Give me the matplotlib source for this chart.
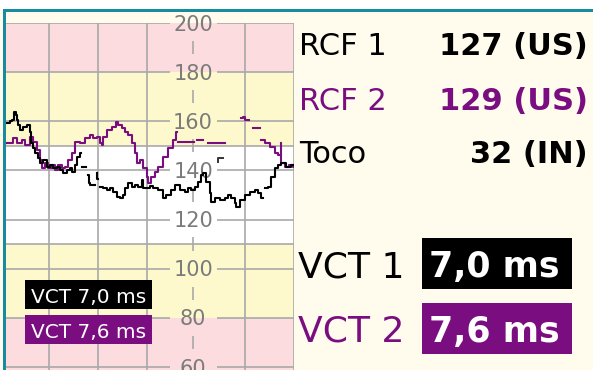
import numpy as np
import matplotlib
matplotlib.use("Agg")
import matplotlib.pyplot as plt
from matplotlib.patches import Rectangle

W, H = 593, 370

# heart rate traces, time in minutes, bpm (nan = signal lost)
t_fhr1 = [0.14, 0.20, 0.24, 0.29, 0.33, 0.35, 0.37, 0.41, 0.47, 0.55, 0.61, 0.63, 0.67,
          0.71, 0.77, 0.82, 0.88, 0.96, 1.02, 1.08, 1.16, 1.22, 1.29, 1.37, 1.43, 1.47,
          1.53, 1.57, 1.63, 1.65, 1.67, 1.73, 1.76, 1.80, 1.82, 1.84, 1.90, 1.94, 1.97,
          1.98, 2.00, 2.04, 2.10, 2.18, 2.24, 2.31, 2.39, 2.45, 2.51, 2.55, 2.61, 2.69,
          2.75, 2.82, 2.90, 2.92, 3.00, 3.06, 3.12, 3.22, 3.33, 3.39, 3.49, 3.57, 3.67,
          3.78, 3.84, 3.90, 3.98, 4.04, 4.10, 4.14, 4.20, 4.29, 4.31, 4.39,
          4.49, 4.59, 4.65, 4.71, 4.80, 4.82, 4.90, 5.00, 5.10, 5.20, 5.27, 5.33, 5.37,
          5.41, 5.47, 5.53, 5.61, 5.67, 5.73, 5.84, 5.94, 6.02]
v_fhr1 = [159.3, 160.1, 160.5, 163.8, 162.6, 160.5, 158.5, 156.4, 157.7, 158.5, 155.6, 151.2, 149.1,
          147.1, 145.1, 143.0, 144.2, 141.4, 142.2, 141.0, 141.4, 140.2, 139.0, 140.2, 141.0, 139.4,
          142.2, 145.5, 147.1, np.nan, 141.4, 141.4, np.nan, 138.1, 134.9, 134.1, 134.1, np.nan, 139.0,
          136.5, np.nan, 133.3, 132.8, 132.0, 132.8, 131.2, 129.2, 128.8, 130.0, 132.8, 134.9, 133.3,
          134.1, 133.3, 136.1, 132.8, 132.8, 133.7, 132.8, 132.0, 128.8, 130.0, 132.0, 134.1, 132.0,
          131.2, 132.8, 132.0, 133.3, 135.3, 138.1, 139.0, 135.3, 130.8, 127.1, 128.8,
          128.0, 128.8, 130.0, 128.8, 126.7, 125.1, 128.0, 130.0, 131.2, 132.0, 130.8, 128.8, np.nan,
          132.8, 133.3, 137.3, 141.0, 142.2, 143.0, 141.4, 142.2, 140.2]

# short isolated fragment of the first trace near 4.5 min
t_frag = [4.45, 4.45, 4.55]
v_frag = [143.5, 145.1, 145.1]

t_fhr2 = [0.14, 0.26, 0.35, 0.45, 0.51, 0.61, 0.67, 0.75, 0.82, 0.86, 0.92, 0.98, 1.06,
          1.12, 1.18, 1.26, 1.33, 1.39, 1.47, 1.53, 1.63, 1.73, 1.84, 1.90, 1.98, 2.04,
          2.08, 2.10, 2.18, 2.29, 2.37, 2.41, 2.49, 2.55, 2.61, 2.69, 2.75, 2.80, 2.86,
          2.92, 3.00, 3.02, 3.08, 3.16, 3.22, 3.33, 3.43, 3.53, 3.59, 3.61, 3.63, 3.90,
          3.95, 4.02, 4.06, 4.15, 4.24, 4.35, 4.60, 4.92, 4.96, 5.00, 5.08, 5.16, 5.27,
          5.30, 5.33, 5.41, 5.51, 5.61, 5.67, 5.70, 5.73, 5.74, 5.81, 5.90, 5.98, 6.04]
v_fhr2 = [151.2, 153.2, 151.2, 152.4, 150.3, 153.6, 151.6, 148.3, 144.2, 141.0, 143.0, 141.0, 142.2,
          140.2, 142.2, 141.0, 141.4, 144.2, 147.1, 151.6, 151.2, 153.2, 154.4, 153.2, 153.6, 151.2,
          150.3, 153.6, 156.5, 157.7, 159.7, 158.5, 157.3, 155.6, 154.4, 151.2, 147.1, 143.0, 144.2,
          141.0, 137.3, 134.9, 137.3, 139.4, 141.4, 145.5, 149.1, 152.4, 155.6, np.nan, 151.6, 151.6,
          np.nan, 152.4, 152.4, np.nan, 151.2, 151.2, np.nan, 161.3, 161.7, 160.5, np.nan, 157.3, 157.3,
          np.nan, 152.4, 151.2, 149.5, 147.1, 146.3, np.nan, 151.2, 143.0, 141.4, 142.2, 141.4, 141.4]

bpm_ticks = [60, 80, 100, 120, 140, 160, 180, 200]

PINK = "#fcdcde"
YELLOW = "#fdf9cc"
CREAM = "#fffcee"
GRID = "#a9a9a9"
TEAL = "#178b9f"
PURPLE = "#7a0e80"


def fx(x):
    return x / W


def fy(y):
    return 1 - y / H


fig = plt.figure(figsize=(W / 100, H / 100), dpi=100)
fig.patch.set_facecolor(CREAM)

# white header strip and teal frame
fig.add_artist(Rectangle((0, fy(9)), 1, 9 / H, transform=fig.transFigure,
                         color="white", lw=0))
fig.add_artist(Rectangle((fx(3), fy(12)), 1, 3 / H, transform=fig.transFigure,
                         color=TEAL, lw=0))
fig.add_artist(Rectangle((fx(3), 0), 3 / W, fy(9), transform=fig.transFigure,
                         color=TEAL, lw=0))

ax = fig.add_axes([fx(6), 0, fx(294) - fx(6), 1 - 23 / H])
x0, x1 = 0.122, 6.0
ax.set_xlim(x0, x1)
ax.set_ylim(58.77, 200)
ax.axis("off")

# normal / warning / alarm zones
ax.axhspan(180, 200, color=PINK, lw=0)
ax.axhspan(150, 180, color=YELLOW, lw=0)
ax.axhspan(110, 150, color="white", lw=0)
ax.axhspan(80, 110, color=YELLOW, lw=0)
ax.axhspan(50, 80, color=PINK, lw=0)

gkw = dict(color=GRID, lw=1.2, zorder=1, solid_capstyle="butt")
for v in bpm_ticks:
    ax.plot([x0, 3.47], [v, v], **gkw)
    ax.plot([4.42, x1], [v, v], **gkw)
for v in (150, 110):
    ax.plot([x0, x1], [v, v], **gkw)
for t in (1, 2, 3, 5, 6):
    ax.plot([t, t], [50, 200], **gkw)
for v in range(70, 200, 20):
    ax.plot([3.94, 3.94], [v - 2.7, v + 2.7], **gkw)
for v in bpm_ticks:
    ax.text(3.94, v - 3.1, str(v), ha="center", va="baseline", fontsize=15,
            color="#7b7b7b", zorder=2)

ax.plot(t_fhr2, v_fhr2, color=PURPLE, lw=1.5, drawstyle="steps-post", zorder=3)
ax.plot(t_fhr1, v_fhr1, color="black", lw=1.5, drawstyle="steps-post", zorder=4)
ax.plot(t_frag, v_frag, color="#333333", lw=1.4, zorder=4)

# small VCT legend boxes inside the trace area
for top, col, txt in ((280, "black", "VCT 7,0 ms"), (315, PURPLE, "VCT 7,6 ms")):
    fig.add_artist(Rectangle((fx(25), fy(top + 29)), 127 / W, 29 / H,
                             transform=fig.transFigure, color=col, lw=0, zorder=5))
    fig.text(fx(88.5), fy(top + 23), txt, ha="center", va="baseline",
             fontsize=14.5, color="white", zorder=6)

# readout panel
rows = [("RCF 1", "127 (US)", "black", 55),
        ("RCF 2", "129 (US)", PURPLE, 110),
        ("Toco", "32 (IN)", "black", 163)]
for name, val, col, base in rows:
    fig.text(fx(299), fy(base), name, ha="left", va="baseline", fontsize=22, color=col)
    fig.text(fx(588), fy(base), val, ha="right", va="baseline", fontsize=22,
             color=col, fontweight="bold")

for name, val, col, top, base in (("VCT 1", "7,0 ms", "black", 238, 277),
                                  ("VCT 2", "7,6 ms", PURPLE, 303, 342)):
    fig.text(fx(298), fy(base), name, ha="left", va="baseline", fontsize=26, color=col)
    fig.add_artist(Rectangle((fx(422), fy(top + 51)), 150 / W, 51 / H,
                             transform=fig.transFigure, color=col, lw=0))
    fig.text(fx(494), fy(base), val, ha="center", va="baseline", fontsize=25,
             color="white", fontweight="bold")

fig.savefig("out.png", dpi=100, facecolor=fig.get_facecolor())
